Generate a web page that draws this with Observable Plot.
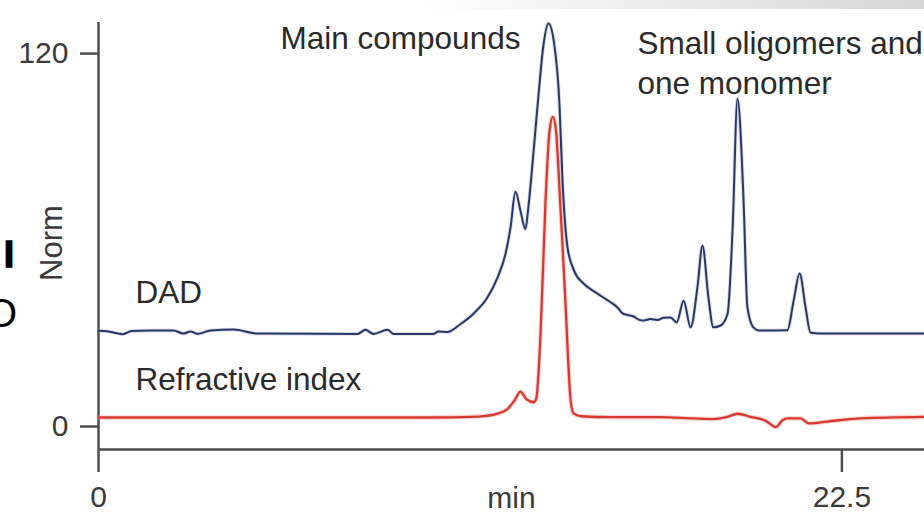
<!DOCTYPE html>
<html>
<head>
<meta charset="utf-8">
<script src="https://cdn.jsdelivr.net/npm/d3@7"></script>
<script src="https://cdn.jsdelivr.net/npm/@observablehq/plot@0.6"></script>
<style>
  html, body { margin: 0; padding: 0; background: #ffffff; overflow: hidden; }
  #wrap { position: relative; width: 924px; height: 515px; overflow: hidden; background: #fff; }
  #band { position: absolute; top: 0; left: 420px; width: 504px; height: 9px;
          background: linear-gradient(to right, rgba(228,228,228,0), rgba(214,214,214,1)); }
  #chart { position: absolute; left: 0; top: 0; }
  .frag { position: absolute; font-family: "Liberation Sans", Arial, sans-serif; line-height: 1; color: #000; white-space: nowrap; }
  #fragI { left: 4px; top: 237px; font-size: 36px; font-weight: bold; -webkit-text-stroke: 1.5px #000; }
  #fragO { left: -14px; top: 293px; font-size: 40px; }
</style>
</head>
<body>
<div id="wrap">
  <div id="band"></div>
  <div class="frag" id="fragI">I</div>
  <div class="frag" id="fragO">O</div>
  <div id="chart"></div>
</div>
<script>
// ---- data ----
const dadTime = [0.0, 0.3, 0.73, 1.0, 1.6, 2.27, 2.57, 2.78, 3.0, 3.39, 4.09, 4.8, 7.84, 8.08, 8.32, 8.75, 8.93,
  10.14, 10.29, 10.56, 10.96, 11.35, 11.77, 12.08, 12.32, 12.47, 12.62, 12.77, 12.92, 13.01, 13.17, 13.32, 13.47,
  13.62, 13.78, 13.95, 14.04, 14.19, 14.38, 14.68, 15.0, 15.28, 15.5, 15.71, 15.85, 16.01, 16.2, 16.35, 16.5, 16.7,
  16.92, 17.1, 17.31, 17.5, 17.71, 17.92, 18.13, 18.28, 18.46, 18.61, 18.83, 19.04, 19.19, 19.34, 19.52, 19.64,
  19.82, 20.0, 20.85, 21.04, 21.22, 21.4, 21.55, 22.0, 25.0];
const dadValue = [30.8, 30.6, 29.7, 30.7, 30.9, 30.9, 29.9, 30.6, 29.8, 30.9, 31.2, 29.9, 29.8, 31.1, 29.8, 31.1, 29.8,
  29.8, 30.6, 30.4, 33.0, 36.3, 41.5, 48.0, 55.6, 64.0, 75.5, 69.5, 63.5, 70.5, 88.8, 107, 123,
  129.7, 124, 104, 80, 58, 50.5, 46, 43.5, 41.5, 40, 38.3, 36.5, 35.9, 35.4, 34.4, 34.1, 34.6,
  34.3, 35, 35.1, 33.5, 40.5, 31.9, 45, 58.2, 41.5, 31.9, 32.5, 36.3, 63, 105.5, 73.7, 38.3,
  31.9, 30.9, 31.0, 40.5, 49.2, 38.3, 30.2, 29.9, 29.9];

const riTime = [0, 5, 10, 11.5, 12.1, 12.37, 12.6, 12.77, 12.95, 13.17, 13.25, 13.38, 13.53, 13.65, 13.75, 13.85,
  13.92, 14.13, 14.29, 14.38, 14.6, 15.5, 17, 18.0, 18.6, 19.0, 19.35, 19.7, 20.2, 20.5, 20.7, 20.85, 21.25,
  21.5, 22.06, 23.07, 25];
const riValue = [2.9, 2.9, 2.9, 3.2, 4.2, 5.5, 8.5, 11.2, 8.8, 7.8, 9, 30, 72.7, 95, 99.6, 95,
  83, 40.5, 8.4, 4.2, 3.3, 3.0, 3.0, 2.6, 2.4, 3.0, 4.1, 3.2, 1.8, -0.2, 2.0, 2.6, 2.6,
  1.0, 1.6, 2.6, 3.1];

const xTicks = [0, 22.5];
const yTicks = [0, 120];
const xDomain = [0, 25];
const yDomain = [-7.4, 130];

const seriesNames = ["DAD", "Refractive index"];
const annotations = ["Main compounds", "Small oligomers and\none monomer"];
const xLabel = "min";
const yLabel = "Norm";

// ---- build tables ----
const dad = dadTime.map((t, i) => ({t, v: dadValue[i]}));
const ri = riTime.map((t, i) => ({t, v: riValue[i]}));

const axisColor = "#4d4d4d";
const textColor = "#2a2a2a";
const font = "'Liberation Sans', Arial, sans-serif";

const chart = Plot.plot({
  width: 924,
  height: 515,
  marginLeft: 98,
  marginRight: 0,
  marginTop: 22,
  marginBottom: 66,
  x: {domain: xDomain},
  y: {domain: yDomain},
  style: {fontFamily: font, background: "transparent", color: textColor, overflow: "visible"},
  marks: [
    Plot.axisY({ticks: yTicks, tickSize: 18, tickPadding: 12, fontSize: 30, color: "#3a3a3a",
      stroke: axisColor, strokeWidth: 2.5, label: null, tickFormat: d => String(d)}),
    Plot.axisX({ticks: xTicks, tickSize: 23, tickPadding: 13, fontSize: 30, color: "#3a3a3a",
      stroke: axisColor, strokeWidth: 2.5, label: null, tickFormat: d => String(d)}),
    Plot.ruleX([xDomain[0]], {stroke: axisColor, strokeWidth: 2.5}),
    Plot.ruleY([yDomain[0]], {stroke: axisColor, strokeWidth: 2.5}),
    Plot.line(ri, {x: "t", y: "v", stroke: "#f0a0a0", strokeWidth: 4.5, strokeOpacity: 0.45, curve: "monotone-x"}),
    Plot.line(ri, {x: "t", y: "v", stroke: "#d8392f", strokeWidth: 2.3, curve: "monotone-x"}),
    Plot.line(dad, {x: "t", y: "v", stroke: "#9aa3c4", strokeWidth: 3.8, strokeOpacity: 0.35, curve: "monotone-x"}),
    Plot.line(dad, {x: "t", y: "v", stroke: "#283766", strokeWidth: 2, curve: "monotone-x"}),
    Plot.text([seriesNames[0]], {x: 1.12, y: 39.6, textAnchor: "start", lineAnchor: "bottom", fontSize: 31.5, fill: textColor}),
    Plot.text([seriesNames[1]], {x: 1.12, y: 11.6, textAnchor: "start", lineAnchor: "bottom", fontSize: 31.5, fill: textColor}),
    Plot.text([annotations[0]], {x: 5.51, y: 128.8, textAnchor: "start", lineAnchor: "top", fontSize: 31.5, fill: textColor}),
    Plot.text([annotations[1]], {x: 16.31, y: 129.1, textAnchor: "start", lineAnchor: "top", fontSize: 31.5, lineHeight: 1.27, fill: textColor}),
    Plot.text([xLabel], {frameAnchor: "bottom", dy: 58, textAnchor: "middle", lineAnchor: "bottom", fontSize: 30, fill: "#3a3a3a"}),
    Plot.text([yLabel], {frameAnchor: "left", dx: -46, dy: 7, rotate: -90, textAnchor: "middle", lineAnchor: "middle", fontSize: 31, fill: "#3a3a3a"})
  ]
});
document.getElementById("chart").appendChild(chart);
</script>
</body>
</html>
